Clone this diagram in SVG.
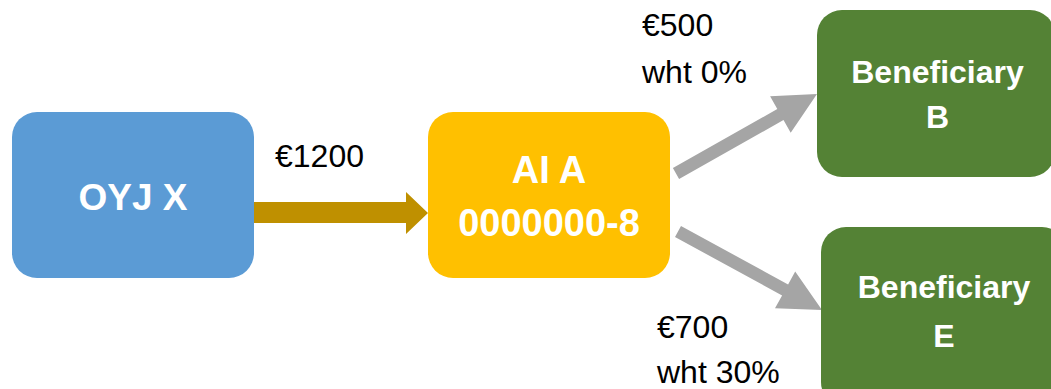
<svg xmlns="http://www.w3.org/2000/svg" width="1051" height="389" viewBox="0 0 1051 389">
<style>
.lbl{font-family:"Liberation Sans",Arial,sans-serif;fill:#000000;font-size:32px}
.nt{font-family:"Liberation Sans",Arial,sans-serif;fill:#ffffff;font-weight:bold;text-anchor:middle}
</style>
<rect width="1051" height="389" fill="#ffffff"/>
<g id="connectors">
<polygon points="254,202 406,202 406,192 428,213 406,234 406,223 254,223" fill="#BF9000"/>
<polygon points="672.9,168 777.3,109 770.1,96.2 817,94 790.7,132.8 783.5,120 679.1,179" fill="#A5A5A5"/>
<polygon points="681,226 788.1,284.4 795.2,271.5 822,310 775,308.3 782.1,295.4 675,237" fill="#A5A5A5"/>
</g>
<g id="node-oyj">
<rect x="12" y="112" width="242" height="166" rx="25" fill="#5B9BD5"/>
<text class="nt" x="133" y="210" font-size="37">OYJ X</text>
</g>
<g id="node-ai">
<rect x="428" y="112" width="242" height="166" rx="25" fill="#FFC000"/>
<text class="nt" x="549" y="183" font-size="38">AI A</text>
<text class="nt" x="549" y="236" font-size="38">0000000-8</text>
</g>
<g id="node-b">
<rect x="817" y="10" width="238" height="167" rx="25" fill="#548235"/>
<text class="nt" x="937.5" y="83" font-size="32">Beneficiary</text>
<text class="nt" x="937.5" y="128" font-size="32">B</text>
</g>
<g id="node-e">
<rect x="821" y="227" width="246" height="180" rx="25" fill="#548235"/>
<text class="nt" x="944" y="298" font-size="32">Beneficiary</text>
<text class="nt" x="944" y="347" font-size="32">E</text>
</g>
<g id="labels">
<text class="lbl" x="275" y="167">€1200</text>
<text class="lbl" x="642" y="36">€500</text>
<text class="lbl" x="642" y="83">wht 0%</text>
<text class="lbl" x="657" y="338" font-size="33">€700</text>
<text class="lbl" x="657" y="383" font-size="33">wht 30%</text>
</g>
</svg>
